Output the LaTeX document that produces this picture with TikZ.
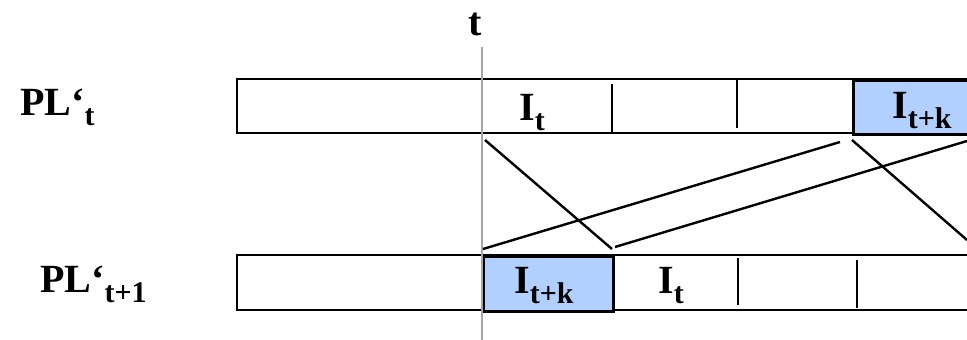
\documentclass[tikz,border=0pt]{standalone}
\usepackage{fontspec}
\setmainfont{Liberation Serif}
\definecolor{cellblue}{RGB}{178,208,255}
\definecolor{tline}{RGB}{165,165,165}
\newcommand{\sbs}[1]{\raisebox{-10pt}{\fontsize{30}{30}\selectfont #1}}
\tikzset{
  lab/.style={font=\fontsize{40}{40}\selectfont\bfseries, inner sep=0pt, anchor=base west},
  bar/.style={draw=black, line width=2.6pt, inner sep=0pt},
  bluecell/.style={draw=black, fill=cellblue, line width=2.6pt, inner sep=0pt, anchor=north west},
  divider/.style={line width=2.3pt},
  conn/.style={line width=2.4pt},
}
\begin{document}
\begin{tikzpicture}[x=1pt,y=-1pt]
\useasboundingbox (0,0) rectangle (967,340);
\clip (0,0) rectangle (967,340);
% bars
\draw[bar] (237,79) rectangle (1000,133);
\draw[bar] (237,255) rectangle (1000,310);
% blue cells
\node[bluecell, minimum width=148pt, minimum height=54pt] (tb) at (852,79) {};
\node[bluecell, minimum width=130pt, minimum height=55pt] (bb) at (482,255) {};
% dividers
\draw[divider] (612,84) -- (612,133);
\draw[divider] (737,80) -- (737,128);
\draw[divider] (738,258) -- (738,305);
\draw[divider] (857,260) -- (857,308);
% time line
\draw[tline, line width=2.6pt] (482,47) -- (482,340);
\node[lab] (tlab) at (468,35) {t};
% row labels
\node[lab] (pl1) at (20,115) {PL‘\sbs{t}};
\node[lab] (pl2) at (40,292) {PL‘\sbs{t+1}};
% cell labels
\node[lab] (it1) at (519,120) {I\sbs{t}};
\node[lab] (ik1) at (892,118) {I\sbs{t+k}};
\node[lab] (ik2) at (514,293) {I\sbs{t+k}};
\node[lab] (it2) at (658,293) {I\sbs{t}};
% connector end points
\coordinate (a1) at (485,140);
\coordinate (a2) at (612,249);
\coordinate (b1) at (483,249);
\coordinate (b2) at (840,142);
\coordinate (c1) at (615,247);
\coordinate (c2) at (967,141);
\coordinate (d1) at (852,140);
\coordinate (d2) at (967,240);
\draw[conn] (a1) -- (a2);
\draw[conn] (b1) -- (b2);
\draw[conn] (c1) -- (c2);
\draw[conn] (d1) -- (d2);
\end{tikzpicture}
\end{document}
